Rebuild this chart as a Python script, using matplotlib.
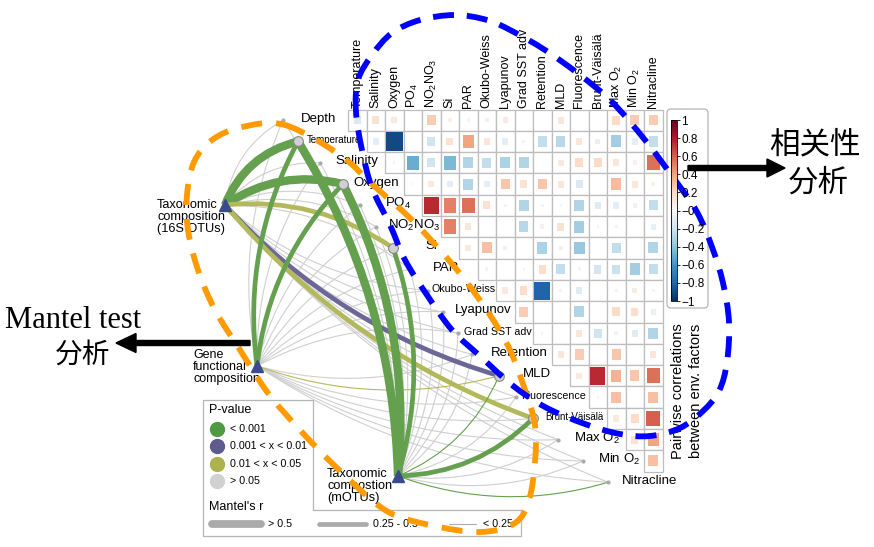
import numpy as np
import matplotlib
matplotlib.use("Agg")
import matplotlib.pyplot as plt
from matplotlib.path import Path
from matplotlib.patches import PathPatch, Rectangle, FancyBboxPatch, FancyArrow
from matplotlib import cm, colors

plt.rcParams['font.family'] = ['Liberation Sans', 'DejaVu Sans']
plt.rcParams['mathtext.fontset'] = 'custom'
plt.rcParams['mathtext.rm'] = 'Liberation Sans'
plt.rcParams['mathtext.default'] = 'regular'

# ---- data ----
env_names = ["Depth", "Temperature", "Salinity", "Oxygen", "PO$_4$", "NO$_2$NO$_3$", "Si", "PAR",
             "Okubo-Weiss", "Lyapunov", "Grad SST adv", "Retention", "MLD", "Fluorescence",
             "Brunt-Väisälä", "Max O$_2$", "Min O$_2$", "Nitracline"]
col_names = env_names[1:]
row_names = env_names[:-1]

# upper triangle of pairwise correlations, row r starts at column r
corr_rows = [
    [-0.15, 0.15, 0.10, 0.00, 0.25, 0.05, 0.03, 0.05, 0.08, 0.00, 0.00, 0.12, 0.00, 0.00, 0.20, 0.25, 0.25],
    [-0.10, -0.90, 0.00, -0.20, 0.15, 0.40, 0.12, -0.10, -0.03, -0.25, -0.28, 0.12, -0.08, -0.35, -0.10, -0.25],
    [0.02, -0.50, -0.20, -0.45, -0.30, -0.25, -0.32, -0.30, 0.00, 0.10, 0.20, 0.20, 0.12, 0.05, 0.55],
    [0.02, 0.10, -0.10, -0.30, -0.10, 0.28, 0.15, 0.28, 0.12, -0.15, 0.00, 0.32, 0.12, 0.05],
    [0.75, 0.50, 0.55, 0.15, -0.03, -0.30, 0.03, 0.02, -0.30, -0.12, -0.10, -0.05, -0.25],
    [0.50, 0.12, 0.00, 0.00, -0.28, 0.05, 0.15, -0.35, 0.02, 0.03, 0.00, -0.08],
    [0.10, 0.30, 0.05, 0.00, -0.32, -0.05, -0.38, 0.00, -0.25, 0.00, -0.30],
    [-0.03, 0.00, 0.02, 0.18, -0.25, 0.03, -0.18, -0.22, -0.35, -0.25],
    [0.10, 0.18, -0.80, 0.03, -0.12, 0.00, 0.03, 0.08, 0.03],
    [0.25, 0.00, 0.00, -0.30, 0.00, 0.20, 0.18, -0.08],
    [0.02, 0.00, 0.12, -0.20, 0.04, -0.12, -0.30],
    [0.12, 0.25, 0.00, 0.28, 0.00, 0.12],
    [0.10, 0.75, 0.35, 0.28, 0.55],
    [0.02, 0.30, 0.00, 0.30],
    [0.10, 0.20, 0.60],
    [0.15, 0.40],
    [0.30],
]

sources = ["Taxonomic\ncomposition\n(16S OTUs)", "Gene\nfunctional\ncomposition", "Taxonomic\ncompostion\n(mOTUs)"]
# Mantel's r and p for each source vs env factor (order of env_names)
mantel_r = [
    [0.12, 0.62, 0.10, 0.60, 0.10, 0.10, 0.35, 0.08, 0.05, 0.10, 0.05, 0.10, 0.38, 0.12, 0.36, 0.10, 0.08, 0.12],
    [0.10, 0.40, 0.10, 0.38, 0.10, 0.08, 0.10, 0.08, 0.05, 0.08, 0.05, 0.08, 0.15, 0.10, 0.10, 0.08, 0.08, 0.10],
    [0.10, 0.65, 0.10, 0.62, 0.10, 0.10, 0.35, 0.08, 0.05, 0.08, 0.05, 0.10, 0.18, 0.10, 0.40, 0.10, 0.10, 0.20],
]
mantel_p = [
    [0.20, 0.0005, 0.30, 0.0005, 0.40, 0.30, 0.02, 0.50, 0.60, 0.30, 0.70, 0.40, 0.005, 0.30, 0.02, 0.40, 0.50, 0.30],
    [0.30, 0.0005, 0.20, 0.0005, 0.40, 0.30, 0.20, 0.50, 0.60, 0.30, 0.70, 0.40, 0.03, 0.30, 0.20, 0.40, 0.50, 0.30],
    [0.30, 0.0005, 0.20, 0.0005, 0.40, 0.30, 0.0005, 0.50, 0.60, 0.30, 0.70, 0.40, 0.0005, 0.30, 0.0005, 0.40, 0.50, 0.0005],
]
p_labels = ["< 0.001", "0.001 < x < 0.01", "0.01 < x < 0.05", "> 0.05"]
r_labels = ["> 0.5", "0.25 - 0.5", "< 0.25"]

# ---- layout (pixel space) ----
W, H = 874, 547
x0, y0, cw, ch = 348, 109.5, 18.5, 21.3
node_x = [283, 298, 320, 343, 360, 376, 393, 410, 428, 443, 458, 472, 499, 516, 533, 558, 583, 608]
label_x = [301, 307, 335, 353, 385, 388, 425, 433, 431, 455, 464, 491, 523, 521, 545, 574, 598, 622]
label_fs = [9.5, 7, 9.5, 9.5, 9.5, 9.5, 9.5, 9.5, 7.7, 9.5, 7.7, 9.5, 9.5, 7.7, 7, 9.5, 9.5, 9.5]
src_x = [225, 257, 398]
src_y = [205, 366, 476]
node_y = [y0 + ch * (i + 0.5) for i in range(len(env_names))]

p_cols_line = ['#64a04e', '#6d6797', '#b3b95a', '#cfcfcf']
p_cols_leg = ['#4e9a41', '#5d5b8f', '#acb24c', '#d0d0d0']
r_widths = [6.0, 3.4, 0.8]
bend_side = [[1] * 8 + [-1] * 10, [1] * 11 + [-1] * 7, [-1] * 18]


def p_class(p):
    return 0 if p < 0.001 else 1 if p < 0.01 else 2 if p < 0.05 else 3


def r_class(r):
    return 0 if r >= 0.5 else 1 if r >= 0.25 else 2


def curve(xa, ya, xb, yb, side):
    dx, dy = xb - xa, yb - ya
    L = np.hypot(dx, dy)
    lx, ly = dy / L, -dx / L
    dev = 0.045 * L + 8
    cx = (xa + xb) / 2 + side * 2 * dev * lx
    cy = (ya + yb) / 2 + side * 2 * dev * ly
    return Path([(xa, ya), (cx, cy), (xb, yb)], [Path.MOVETO, Path.CURVE3, Path.CURVE3])


def smooth_closed(pts):
    pts = np.array(pts, dtype=float)
    n = len(pts)
    verts = [pts[0]]
    codes = [Path.MOVETO]
    for i in range(n):
        p0, p1, p2, p3 = pts[i - 1], pts[i], pts[(i + 1) % n], pts[(i + 2) % n]
        verts += [p1 + (p2 - p0) / 6, p2 - (p3 - p1) / 6, p2]
        codes += [Path.CURVE4] * 3
    return Path(verts, codes)


fig = plt.figure(figsize=(W / 100, H / 100), dpi=100)
ax = fig.add_axes([0, 0, 1, 1])
ax.set_xlim(0, W)
ax.set_ylim(H, 0)
ax.axis('off')

# ---- mantel edges ----
edges = []
for s in range(3):
    for i in range(len(env_names)):
        edges.append((p_class(mantel_p[s][i]) != 3, s, i))
edges.sort(key=lambda e: e[0])
for sig, s, i in edges:
    pc = p_class(mantel_p[s][i])
    rc = r_class(mantel_r[s][i])
    pth = curve(src_x[s], src_y[s], node_x[i], node_y[i], bend_side[s][i])
    ax.add_patch(PathPatch(pth, fc='none', ec=p_cols_line[pc], lw=r_widths[rc] if pc < 3 else 0.8,
                           zorder=2 if pc < 3 else 1, capstyle='butt'))

# env nodes
for i in range(len(env_names)):
    big = any(p_class(mantel_p[s][i]) < 3 and r_class(mantel_r[s][i]) < 2 for s in range(3))
    if big:
        ax.plot(node_x[i], node_y[i], 'o', ms=7, mfc='#d0d0d0', mec='#888888', mew=0.8, zorder=4)
    else:
        ax.plot(node_x[i], node_y[i], 'o', ms=2, mfc='#aaaaaa', mec='#aaaaaa', zorder=4)
    ax.text(label_x[i], node_y[i] - 1.5, env_names[i], fontsize=label_fs[i], va='center', ha='left', zorder=3)

# sources
for s in range(3):
    ax.plot(src_x[s], src_y[s], '^', ms=9, color='#3a4a8c', zorder=5)
ax.text(157, 217, sources[0], fontsize=9.2, va='center', ha='left', linespacing=0.95, zorder=6)
ax.text(193, 367, sources[1], fontsize=9, va='center', ha='left', linespacing=0.95, zorder=6)
ax.text(327, 486, sources[2], fontsize=9.2, va='center', ha='left', linespacing=0.95, zorder=6)

# ---- correlation heatmap ----
cmap = plt.get_cmap('RdBu_r')
norm = colors.Normalize(-1, 1)
for r, vals in enumerate(corr_rows):
    for k, v in enumerate(vals):
        c = r + k
        x, y = x0 + c * cw, y0 + r * ch
        ax.add_patch(Rectangle((x, y), cw, ch, fc='white', ec='#bdbdbd', lw=0.9, zorder=6))
        f = np.sqrt(abs(v)) * 0.95
        if f > 0:
            ax.add_patch(Rectangle((x + cw * (1 - f) / 2, y + ch * (1 - f) / 2), cw * f, ch * f,
                                   fc=cmap(norm(v)), ec='none', zorder=7))
for c, name in enumerate(col_names):
    ax.text(x0 + (c + 0.5) * cw, y0 - 2, name, rotation=90, fontsize=9, ha='center', va='bottom', zorder=6)

# colorbar
ax.add_patch(FancyBboxPatch((667, 109), 41, 199, boxstyle='round,pad=0,rounding_size=4',
                            fc='white', ec='#b5b5b5', lw=0.9, zorder=6))
cax = fig.add_axes([671 / W, 1 - 301 / H, 6 / W, 181 / H])
cb = fig.colorbar(cm.ScalarMappable(norm=norm, cmap=cmap), cax=cax)
ticks = np.round(np.arange(-1, 1.01, 0.2), 1)
cb.set_ticks(ticks)
cb.set_ticklabels([('%g' % t).replace('-', '\u2212') for t in ticks])
cax.tick_params(length=2, width=0.6, pad=1.2, labelsize=8.5)
cb.outline.set_linewidth(0.6)
ax.text(687, 391, "Pairwise correlations\nbetween env. factors", rotation=90, fontsize=10.5,
        ha='center', va='center', linespacing=1.3, zorder=6)

# ---- legend ----
leg = [(203, 400), (313, 400), (313, 510), (521, 510), (521, 536), (203, 536)]
ax.add_patch(PathPatch(Path(leg + [leg[0]], [Path.MOVETO] + [Path.LINETO] * 5 + [Path.CLOSEPOLY]),
                       fc='none', ec='#b5b5b5', lw=0.9, joinstyle='round', zorder=6))
ax.text(209, 410, "P-value", fontsize=9, va='center', ha='left', zorder=6)
for k, lab in enumerate(p_labels):
    yy = 429 + k * 17.3
    ax.plot(217, yy, 'o', ms=10, color=p_cols_leg[k], zorder=6)
    ax.text(230, yy, lab, fontsize=7.7, va='center', ha='left', zorder=6)
ax.text(209, 507, "Mantel's r", fontsize=9, va='center', ha='left', zorder=6)
seg_x = [(212, 261, 268), (319, 366, 373), (449, 476, 483)]
for k, lab in enumerate(r_labels):
    xa, xb, xt = seg_x[k]
    ax.plot([xa, xb], [524, 524], color='#aaaaaa', lw=r_widths[k] - (0.4 if k == 0 else 0),
            solid_capstyle='round', zorder=6)
    ax.text(xt, 524, lab, fontsize=7.7, va='center', ha='left', zorder=6)

# ---- annotations ----
orange_pts = [(285, 125), (340, 155), (373, 185), (410, 218), (440, 250), (465, 280), (490, 315),
              (510, 350), (525, 390), (535, 425), (535, 462), (529, 500), (515, 523), (480, 532),
              (430, 525), (385, 510), (335, 466), (300, 430), (268, 393), (240, 350), (215, 310),
              (198, 270), (188, 230), (187, 195), (194, 162), (212, 140), (242, 127)]
blue_pts = [(356, 112), (358, 80), (372, 55), (392, 33), (420, 20), (455, 15), (487, 20), (512, 31),
            (545, 50), (580, 75), (612, 102), (645, 140), (675, 180), (697, 212), (712, 247),
            (723, 283), (729, 322), (727, 362), (719, 391), (703, 411), (680, 428), (650, 436),
            (620, 434), (585, 424), (545, 407), (512, 385), (480, 356), (452, 330), (427, 295),
            (405, 260), (390, 225), (372, 188), (362, 150)]
ax.add_patch(PathPatch(smooth_closed(orange_pts), fc='none', ec='#ff9a00', lw=4.2,
                       linestyle=(0, (3.6, 2.4)), capstyle='butt', zorder=9))
ax.add_patch(PathPatch(smooth_closed(blue_pts), fc='none', ec='#0000ff', lw=4.2,
                       linestyle=(0, (3.6, 2.2)), capstyle='butt', zorder=10))

ax.add_patch(FancyArrow(250, 343, -134, 0, width=5, head_width=19, head_length=20,
                        length_includes_head=True, color='black', zorder=10))
ax.add_patch(FancyArrow(688, 168, 97, 0, width=5, head_width=18, head_length=18,
                        length_includes_head=True, color='black', zorder=10))
ax.text(5, 320, "Mantel test", fontsize=22, family='Liberation Serif', va='center', ha='left')
ax.text(83, 355, "分析", fontsize=20, family=['Noto Sans CJK SC'], va='center', ha='center')
ax.text(815, 145, "相关性", fontsize=22, family=['Noto Sans CJK SC'], va='center', ha='center')
ax.text(818, 183, "分析", fontsize=22, family=['Noto Sans CJK SC'], va='center', ha='center')

fig.savefig("out.png", dpi=100)
